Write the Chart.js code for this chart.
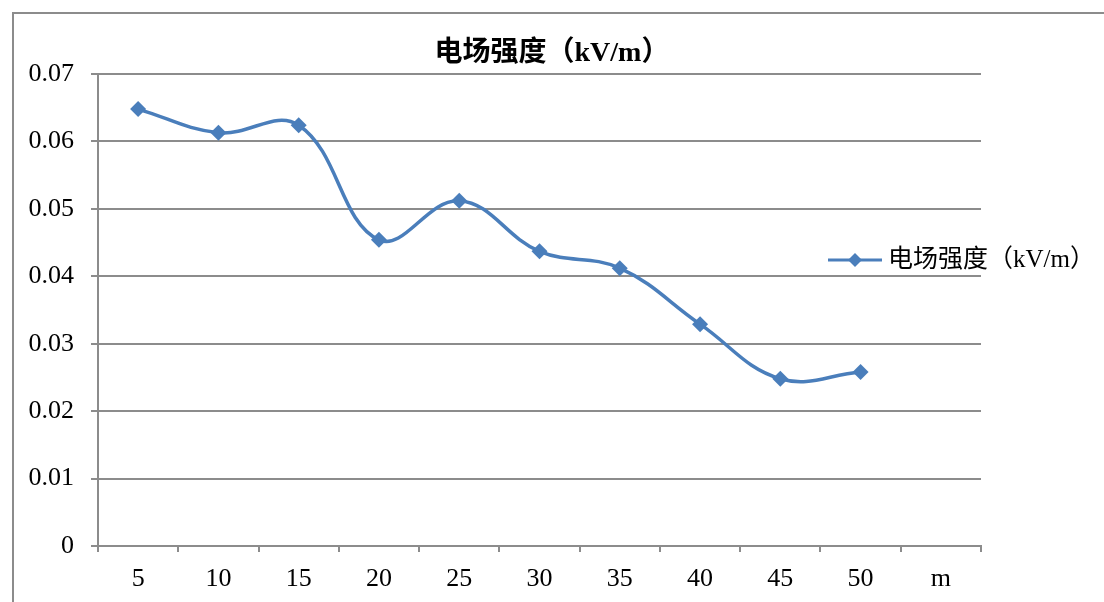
<!DOCTYPE html>
<html>
<head>
<meta charset="utf-8">
<script src="https://cdn.jsdelivr.net/npm/chart.js@4/dist/chart.umd.min.js"></script>
<style>
  html, body { margin: 0; padding: 0; background: #fff; overflow: hidden; }
  #frame { position: absolute; left: 12px; top: 12px; width: 1200px; height: 700px; border: 2px solid #8c8c8c; box-sizing: border-box; }
  #wrap { position: absolute; left: 0; top: 0; width: 1104px; height: 602px; }
</style>
</head>
<body>
<div id="frame"></div>
<div id="wrap"><canvas id="chart" width="1104" height="602"></canvas></div>
<script>
// distances and field strength values
const distances = ['5', '10', '15', '20', '25', '30', '35', '40', '45', '50', 'm'];
const fieldValues = [0.0648, 0.0613, 0.0624, 0.0454, 0.0512, 0.0437, 0.0412, 0.0329, 0.0248, 0.0258, null];
const seriesName = '电场强度（kV/m）';
const yTicks = [0, 0.01, 0.02, 0.03, 0.04, 0.05, 0.06, 0.07];

const lineColor = '#4a7ebb';
const gridColor = '#8c8c8c';
const serif = '"Liberation Serif", "Noto Sans CJK SC", serif';

//legend drawn over the right part of the plot, like the original
const sideLegend = {
  id: 'sideLegend',
  afterDraw(chart) {
    const ctx = chart.ctx;
    const y = 260;
    ctx.save();
    ctx.strokeStyle = lineColor;
    ctx.lineWidth = 3;
    ctx.beginPath();
    ctx.moveTo(828, y);
    ctx.lineTo(882, y);
    ctx.stroke();
    ctx.fillStyle = lineColor;
    ctx.beginPath();
    ctx.moveTo(855, y - 7);
    ctx.lineTo(862, y);
    ctx.lineTo(855, y + 7);
    ctx.lineTo(848, y);
    ctx.closePath();
    ctx.fill();
    ctx.fillStyle = '#000';
    ctx.font = '25px ' + serif;
    ctx.textBaseline = 'middle';
    ctx.fillText(chart.data.datasets[0].label, 888, y);
    ctx.restore();
  }
};

new Chart(document.getElementById('chart'), {
  type: 'line',
  plugins: [sideLegend],
  data: {
    labels: distances,
    datasets: [{
      label: seriesName,
      data: fieldValues,
      borderColor: lineColor,
      backgroundColor: lineColor,
      borderWidth: 3.5,
      tension: 0.4,
      pointStyle: 'rectRot',
      pointRadius: 8,
      pointHoverRadius: 8,
      pointBorderWidth: 0,
      fill: false,
    }],
  },
  options: {
    responsive: false,
    animation: false,
    layout: { padding: 0 },
    plugins: {
      legend: { display: false },
      tooltip: { enabled: false },
      title: {
        display: true,
        text: seriesName,
        color: '#000',
        font: { family: serif, size: 28, weight: 'bold', lineHeight: 1.2 },
        padding: { top: 37, bottom: 3.4 },
      },
    },
    scales: {
      x: {
        offset: true,
        grid: { offset: true, drawOnChartArea: false, drawTicks: true, tickLength: 6, color: gridColor, lineWidth: 2 },
        border: { color: gridColor, width: 2 },
        ticks: { color: '#000', font: { family: serif, size: 26 }, padding: 12, maxRotation: 0 },
        afterFit: (s) => { s.height = 56; },
      },
      y: {
        min: 0,
        max: 0.07,
        afterBuildTicks: (s) => { s.ticks = yTicks.map(v => ({ value: v })); },
        grid: { color: gridColor, lineWidth: 2, tickLength: 7 },
        border: { color: gridColor, width: 2 },
        ticks: {
          color: '#000',
          font: { family: serif, size: 26 },
          padding: 17,
          callback: (v) => v === 0 ? '0' : v.toFixed(2),
        },
        afterFit: (s) => { s.width = 98; },
      },
      spacer: {
        type: 'linear',
        position: 'right',
        display: true,
        grid: { display: false },
        border: { display: false },
        ticks: { display: false },
        afterFit: (s) => { s.width = 123; },
      },
    },
  },
});
</script>
</body>
</html>
